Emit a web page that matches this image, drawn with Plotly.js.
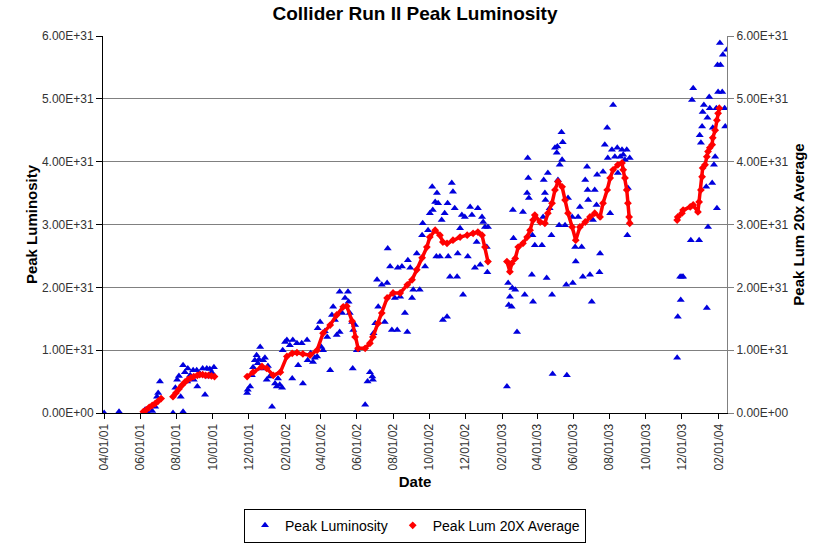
<!DOCTYPE html>
<html>
<head>
<meta charset="utf-8">
<script src="https://cdn.plot.ly/plotly-3.0.1.min.js"></script>
<style>html,body{margin:0;padding:0;background:#fff;}#chart{width:830px;height:543px;}</style>
</head>
<body>
<div id="chart"></div>
<script>
// ---- Data ----
const peakDates = [
'2001-04-01','2001-04-26','2001-06-09','2001-06-14','2001-06-21','2001-06-26','2001-06-29','2001-07-01','2001-07-04',
'2001-07-26','2001-07-30','2001-08-02','2001-08-05','2001-08-08','2001-08-12','2001-08-12','2001-08-15','2001-08-19',
'2001-08-20','2001-08-24','2001-08-29','2001-08-30','2001-09-04','2001-09-05','2001-09-09','2001-09-14','2001-09-18',
'2001-09-21','2001-09-23','2001-09-26','2001-09-29','2001-10-01','2001-10-03',
'2001-11-28','2001-11-29','2001-12-03','2001-12-06','2001-12-08','2001-12-11','2001-12-14','2001-12-16','2001-12-18',
'2001-12-20','2001-12-23','2001-12-25','2001-12-28','2001-12-31','2002-01-02','2002-01-05','2002-01-09','2002-01-14',
'2002-01-17','2002-01-19','2002-01-22','2002-01-26','2002-01-27','2002-01-31','2002-02-03','2002-02-08','2002-02-12',
'2002-02-13','2002-02-20','2002-02-22','2002-02-28','2002-03-02','2002-03-09','2002-03-10','2002-03-15','2002-03-19',
'2002-03-22','2002-03-26','2002-03-27','2002-03-31','2002-04-02','2002-04-05','2002-04-08','2002-04-12','2002-04-17',
'2002-04-20','2002-04-22','2002-04-25','2002-04-28','2002-05-03','2002-05-03','2002-05-07','2002-05-12','2002-05-17',
'2002-05-18','2002-05-20','2002-05-24','2002-05-25','2002-05-26','2002-05-29','2002-06-01','2002-06-15','2002-06-19',
'2002-06-23','2002-06-27','2002-06-28','2002-06-29','2002-07-02','2002-07-05','2002-07-07','2002-07-13','2002-07-18',
'2002-07-22','2002-07-23','2002-07-27','2002-07-30','2002-08-04','2002-08-08','2002-08-09','2002-08-13','2002-08-16',
'2002-08-21','2002-08-25','2002-08-26','2002-08-30','2002-09-02','2002-09-04','2002-09-10','2002-09-15','2002-09-19',
'2002-09-20','2002-09-24','2002-09-29','2002-10-02','2002-10-06','2002-10-07','2002-10-11','2002-10-13','2002-10-14',
'2002-10-16','2002-10-19','2002-10-22','2002-10-24','2002-10-27','2002-10-31','2002-11-01','2002-11-02','2002-11-05',
'2002-11-08','2002-11-10','2002-11-13','2002-11-17','2002-11-18','2002-11-22','2002-11-25','2002-11-27','2002-11-30',
'2002-12-05','2002-12-09','2002-12-12','2002-12-17','2002-12-20','2002-12-22','2002-12-26','2002-12-29','2002-12-31',
'2003-01-03','2003-01-06','2003-01-07','2003-01-08',
'2003-02-09','2003-02-11','2003-02-12','2003-02-14','2003-02-17','2003-02-18','2003-02-19','2003-02-20','2003-02-23',
'2003-02-26','2003-03-08','2003-03-11','2003-03-15','2003-03-16','2003-03-17','2003-03-18','2003-03-23','2003-03-24',
'2003-03-25','2003-03-28','2003-04-09','2003-04-11','2003-04-12','2003-04-14','2003-04-15','2003-04-17','2003-04-19',
'2003-04-22','2003-04-25','2003-04-26','2003-04-27','2003-05-01','2003-05-04','2003-05-05','2003-05-06','2003-05-08',
'2003-05-09','2003-05-12','2003-05-13','2003-05-14','2003-05-18','2003-05-20','2003-05-21','2003-05-23','2003-05-30',
'2003-05-31','2003-06-04','2003-06-05','2003-06-09','2003-06-12','2003-06-15','2003-06-17','2003-06-21','2003-06-24',
'2003-06-25','2003-06-26','2003-06-29','2003-07-02','2003-07-04','2003-07-07','2003-07-10','2003-07-11','2003-07-15',
'2003-07-16','2003-07-21','2003-07-24','2003-07-28','2003-07-29','2003-08-02','2003-08-05','2003-08-07','2003-08-10',
'2003-08-14','2003-08-15','2003-08-19','2003-08-22','2003-08-24','2003-08-27','2003-08-30','2003-08-31','2003-09-01',
'2003-09-04',
'2003-11-23','2003-11-24','2003-11-28','2003-11-29','2003-12-01','2003-12-03','2003-12-16','2003-12-18','2003-12-20',
'2003-12-30','2003-12-31','2004-01-02','2004-01-04','2004-01-05','2004-01-07','2004-01-11','2004-01-12','2004-01-13',
'2004-01-14','2004-01-16','2004-01-17','2004-01-21','2004-01-22','2004-01-24','2004-01-26','2004-01-28','2004-01-29',
'2004-01-30','2004-01-31','2004-02-03','2004-02-04','2004-02-07','2004-02-08','2004-02-11','2004-02-12','2004-02-15'
];
const peakLum = [
0,0.02e31,0.05e31,0,0.03e31,0.10e31,0.26e31,0.32e31,0.50e31,
0,0.40e31,0.53e31,0.59e31,0.26e31,0.76e31,0.02e31,0.65e31,0.50e31,
0.71e31,0.60e31,0.68e31,0.53e31,0.68e31,0.42e31,0.63e31,0.71e31,0.29e31,
0.71e31,0.58e31,0.70e31,0.65e31,0.62e31,0.73e31,
0.32e31,0.37e31,0.42e31,0.60e31,0.73e31,0.84e31,0.92e31,0.79e31,0.85e31,
1.05e31,0.71e31,0.84e31,0.88e31,0.53e31,0.75e31,0.58e31,0.10e31,0.47e31,
0.42e31,0.55e31,0.45e31,0.40e31,1.00e31,1.13e31,1.16e31,1.08e31,0.55e31,
1.16e31,1.11e31,0.76e31,1.11e31,0.47e31,1.16e31,0.84e31,0.95e31,0.81e31,
0.88e31,0.90e31,1.35e31,1.45e31,1.05e31,1.00e31,1.30e31,1.21e31,0.68e31,
1.56e31,1.69e31,1.48e31,1.24e31,1.93e31,1.29e31,1.59e31,1.83e31,1.93e31,
1.77e31,1.59e31,1.45e31,0.71e31,1.32e31,1.40e31,1.00e31,0.13e31,0.50e31,
0.65e31,0.58e31,0.53e31,1.27e31,1.43e31,2.12e31,1.69e31,2.04e31,1.45e31,
2.07e31,2.62e31,2.33e31,1.32e31,1.83e31,1.32e31,2.31e31,1.85e31,2.33e31,
1.59e31,1.29e31,2.43e31,2.31e31,1.83e31,1.96e31,2.54e31,1.96e31,2.83e31,
3.02e31,2.33e31,2.91e31,3.18e31,3.60e31,3.23e31,3.36e31,2.49e31,3.50e31,
3.34e31,2.49e31,3.07e31,1.48e31,3.18e31,1.53e31,3.34e31,2.49e31,2.17e31,
3.66e31,3.52e31,3.26e31,2.17e31,2.54e31,2.94e31,3.15e31,1.88e31,3.12e31,
2.49e31,3.28e31,3.15e31,2.31e31,2.72e31,3.26e31,2.36e31,3.12e31,3.04e31,
2.96e31,2.64e31,2.24e31,2.96e31,
0.42e31,2.07e31,1.72e31,1.85e31,1.69e31,1.99e31,3.23e31,2.78e31,1.96e31,
1.29e31,3.20e31,1.88e31,3.50e31,4.06e31,3.74e31,3.42e31,2.20e31,2.83e31,
1.77e31,2.67e31,2.67e31,3.12e31,3.71e31,3.50e31,3.39e31,2.15e31,3.82e31,
3.26e31,2.83e31,1.88e31,0.62e31,4.22e31,4.14e31,4.24e31,3.71e31,2.99e31,
3.95e31,4.47e31,4.03e31,4.31e31,2.99e31,2.04e31,0.60e31,3.42e31,3.12e31,
2.07e31,2.64e31,2.41e31,3.12e31,3.28e31,2.64e31,2.17e31,3.71e31,3.92e31,
3.55e31,3.39e31,2.20e31,1.77e31,3.07e31,3.55e31,3.31e31,3.79e31,2.24e31,
2.54e31,3.84e31,4.27e31,4.54e31,4.06e31,3.18e31,4.19e31,4.90e31,4.08e31,
4.22e31,3.82e31,4.08e31,4.19e31,4.11e31,4.03e31,4.19e31,2.83e31,3.58e31,
4.06e31,
0.88e31,1.53e31,2.17e31,1.80e31,2.17e31,2.17e31,2.75e31,4.98e31,5.17e31,
2.75e31,4.42e31,4.30e31,4.56e31,4.79e31,4.90e31,3.60e31,1.67e31,4.70e31,
2.96e31,5.03e31,4.85e31,3.66e31,4.54e31,3.95e31,4.08e31,4.85e31,3.26e31,
5.54e31,5.11e31,5.89e31,5.54e31,5.11e31,5.70e31,4.85e31,4.56e31,5.78e31
];

// 20x running average (null = gap between running periods)
const avgDates = [
'2001-06-06','2001-06-11','2001-06-16','2001-06-21','2001-06-26','2001-07-01','2001-07-06',null,
'2001-07-26','2001-07-31','2001-08-05','2001-08-10','2001-08-15','2001-08-20','2001-08-25','2001-08-30','2001-09-05',
'2001-09-09','2001-09-14','2001-09-19','2001-09-24','2001-09-29','2001-10-04',null,
'2001-11-28','2001-12-08','2001-12-23','2001-12-31','2002-01-11','2002-01-23','2002-02-03','2002-02-12','2002-02-20',
'2002-03-02','2002-03-14','2002-03-26','2002-04-05','2002-04-17','2002-04-28','2002-05-09','2002-05-15','2002-05-24',
'2002-05-29','2002-06-03','2002-06-15','2002-06-23','2002-06-28','2002-07-07','2002-07-13','2002-07-22','2002-08-01',
'2002-08-13','2002-08-25','2002-09-02','2002-09-10','2002-09-19','2002-09-27','2002-10-02','2002-10-11','2002-10-19',
'2002-10-24','2002-10-31','2002-11-10','2002-11-22','2002-12-04','2002-12-14','2002-12-22','2002-12-29','2003-01-03',
'2003-01-08',null,
'2003-02-09','2003-02-14','2003-02-17','2003-02-23','2003-02-28','2003-03-08','2003-03-15','2003-03-20','2003-03-25',
'2003-03-28','2003-04-06','2003-04-14','2003-04-19','2003-04-26','2003-05-01','2003-05-06','2003-05-13','2003-05-18',
'2003-05-23','2003-05-30','2003-06-05','2003-06-12','2003-06-21','2003-06-29','2003-07-07','2003-07-16','2003-07-21',
'2003-07-28','2003-08-02','2003-08-07','2003-08-15','2003-08-22','2003-08-24','2003-08-27','2003-08-30','2003-09-01',
'2003-09-03','2003-09-04',null,
'2003-11-23','2003-11-24','2003-12-01','2003-12-03','2003-12-15','2003-12-20','2003-12-28','2003-12-30','2004-01-02',
'2004-01-04','2004-01-05','2004-01-09','2004-01-12','2004-01-14','2004-01-17','2004-01-21','2004-01-22','2004-01-26',
'2004-01-29','2004-01-31','2004-02-02'
];
const avgLum = [
0.02e31,0.05e31,0.09e31,0.12e31,0.15e31,0.19e31,0.23e31,null,
0.26e31,0.32e31,0.38e31,0.44e31,0.49e31,0.53e31,0.56e31,0.58e31,0.60e31,
0.61e31,0.61e31,0.60e31,0.60e31,0.59e31,0.58e31,null,
0.58e31,0.65e31,0.74e31,0.71e31,0.60e31,0.65e31,0.90e31,0.95e31,0.96e31,
0.94e31,0.92e31,1.00e31,1.27e31,1.40e31,1.56e31,1.69e31,1.70e31,1.46e31,
1.21e31,1.03e31,1.03e31,1.11e31,1.21e31,1.43e31,1.59e31,1.83e31,1.91e31,
1.91e31,2.04e31,2.12e31,2.28e31,2.47e31,2.64e31,2.80e31,2.91e31,2.83e31,
2.72e31,2.70e31,2.75e31,2.80e31,2.83e31,2.86e31,2.88e31,2.83e31,2.64e31,
2.41e31,null,
2.41e31,2.25e31,2.38e31,2.46e31,2.64e31,2.70e31,2.80e31,2.91e31,3.07e31,
3.15e31,3.04e31,3.02e31,3.18e31,3.34e31,3.55e31,3.68e31,3.60e31,3.39e31,
3.18e31,2.96e31,2.75e31,2.96e31,3.04e31,3.12e31,3.18e31,3.12e31,3.34e31,
3.55e31,3.74e31,3.87e31,3.95e31,3.98e31,3.87e31,3.74e31,3.55e31,3.34e31,
3.12e31,3.02e31,null,
3.07e31,3.12e31,3.18e31,3.23e31,3.28e31,3.31e31,3.20e31,3.36e31,3.55e31,
3.76e31,3.90e31,3.95e31,4.08e31,4.16e31,4.22e31,4.27e31,4.38e31,4.50e31,
4.66e31,4.77e31,4.85e31
];

const xTickVals = ['2001-04-01','2001-06-01','2001-08-01','2001-10-01','2001-12-01','2002-02-01','2002-04-01','2002-06-01',
'2002-08-01','2002-10-01','2002-12-01','2003-02-01','2003-04-01','2003-06-01','2003-08-01','2003-10-01','2003-12-01','2004-02-01'];
const xTickText = ['04/01/01','06/01/01','08/01/01','10/01/01','12/01/01','02/01/02','04/01/02','06/01/02',
'08/01/02','10/01/02','12/01/02','02/01/03','04/01/03','06/01/03','08/01/03','10/01/03','12/01/03','02/01/04'];
const yTickVals = [0,1e31,2e31,3e31,4e31,5e31,6e31];
const yTickText = ['0.00E+00','1.00E+31','2.00E+31','3.00E+31','4.00E+31','5.00E+31','6.00E+31'];

const FONT = 'Arial, "Liberation Sans", sans-serif';

const traces = [
  {
    type: 'scatter', mode: 'markers', name: 'Peak Luminosity',
    x: peakDates, y: peakLum, xaxis: 'x', yaxis: 'y',
    marker: {symbol: 'triangle-up', size: 7, color: '#0000dd'}
  },
  {
    type: 'scatter', mode: 'lines', showlegend: false, hoverinfo: 'skip',
    x: avgDates, y: avgLum, xaxis: 'x', yaxis: 'y2',
    line: {color: '#ff0000', width: 3.5}, connectgaps: false
  },
  {
    type: 'scatter', mode: 'markers', name: 'Peak Lum 20X Average',
    x: avgDates, y: avgLum, xaxis: 'x', yaxis: 'y2',
    marker: {symbol: 'diamond', size: 6, color: '#ff0000'}
  }
];

const layout = {
  width: 830, height: 543,
  margin: {l: 103, r: 103, t: 36, b: 130, pad: 0, autoexpand: false},
  paper_bgcolor: '#ffffff', plot_bgcolor: '#ffffff',
  font: {family: FONT, color: '#000'},
  title: {
    text: 'Collider Run II Peak Luminosity',
    font: {family: FONT, size: 19, weight: 'bold', color: '#000'},
    x: 0.5, xanchor: 'center', y: 0.976, yanchor: 'middle'
  },
  showlegend: true,
  legend: {
    orientation: 'h', x: 0.5, xanchor: 'center', y: -0.254, yanchor: 'top',
    bordercolor: '#000', borderwidth: 1, bgcolor: '#fff',
    font: {family: FONT, size: 14, color: '#000'},
    itemwidth: 30, tracegroupgap: 0
  },
  xaxis: {
    type: 'date', range: ['2001-03-30', '2004-02-15'], automargin: false,
    tickmode: 'array', tickvals: xTickVals, ticktext: xTickText, tickangle: -90,
    tickfont: {family: FONT, size: 12, color: '#333'},
    showline: true, linecolor: '#000', linewidth: 1,
    ticks: 'outside', ticklen: 5, tickcolor: '#000',
    showgrid: false, zeroline: false,
    title: {text: 'Date', font: {family: FONT, size: 15, weight: 'bold', color: '#000'}}
  },
  yaxis: {
    range: [0, 6e31], automargin: false, tickmode: 'array', tickvals: yTickVals, ticktext: yTickText,
    tickfont: {family: FONT, size: 12, color: '#333'},
    showline: true, linecolor: '#000', linewidth: 1,
    ticks: 'outside', ticklen: 6, tickcolor: '#000',
    showgrid: true, gridcolor: '#808080', gridwidth: 1, zeroline: false,
    title: {text: 'Peak Luminosity', font: {family: FONT, size: 15, weight: 'bold', color: '#000'}}
  },
  yaxis2: {
    overlaying: 'y', side: 'right', anchor: 'x', automargin: false,
    range: [0, 6e31], tickmode: 'array', tickvals: yTickVals, ticktext: yTickText,
    tickfont: {family: FONT, size: 12, color: '#333'},
    showline: true, linecolor: '#808080', linewidth: 1,
    ticks: 'outside', ticklen: 6, tickcolor: '#808080',
    showgrid: false, zeroline: false,
    title: {text: 'Peak Lum 20x Average', font: {family: FONT, size: 15, weight: 'bold', color: '#000'}}
  }
};

Plotly.newPlot('chart', traces, layout, {displayModeBar: false, staticPlot: true});
</script>
</body>
</html>
